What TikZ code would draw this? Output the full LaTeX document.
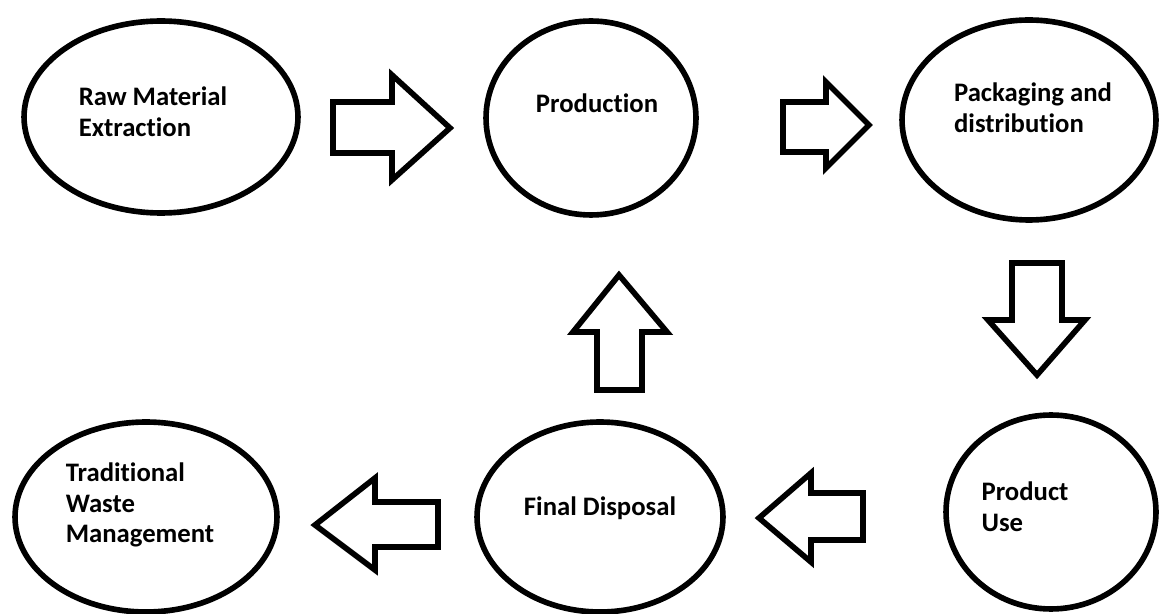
\documentclass[tikz,border=0pt]{standalone}
\usepackage{fontspec}
\setmainfont{Carlito}[Ligatures=NoCommon]
\usetikzlibrary{shapes.geometric}

\begin{document}
\begin{tikzpicture}[x=0.02cm,y=-0.02cm,
    etapa/.style={ellipse,draw,line width=3.2pt,inner sep=0pt},
    rotulo/.style={align=left,font=\bfseries\fontsize{15.2}{17.5}\selectfont},
    bloque/.style={draw,line width=3.2pt,fill=white}]

\useasboundingbox (0,0) rectangle (1159,614);

% Etapas del ciclo
\node[etapa,minimum width=5.48cm,minimum height=3.84cm] (raw) at (161,117) {};
\node[etapa,minimum width=4.20cm,minimum height=3.88cm] (prod) at (591,118) {};
\node[etapa,minimum width=5.08cm,minimum height=4.00cm] (pack) at (1029,120) {};
\node[etapa,minimum width=4.20cm,minimum height=3.88cm] (use) at (1051,512) {};
\node[etapa,minimum width=4.92cm,minimum height=3.80cm] (disp) at (600,517) {};
\node[etapa,minimum width=5.24cm,minimum height=3.80cm] (trad) at (146,517) {};

% Textos
\node[rotulo] (rawtxt) at (153,112) {Raw Material\\Extraction};
\node[rotulo] (prodtxt) at (597,103) {Production};
\node[rotulo] (packtxt) at (1033,108) {Packaging and\\distribution};
\node[rotulo] (usetxt) at (1025,507) {Product\\Use};
\node[rotulo] (disptxt) at (600,508) {Final Disposal};
\node[rotulo] (tradtxt) at (140,505) {Traditional\\Waste\\Management};

% Flechas de bloque
\draw[bloque] (333,102) -- (392,102) -- (392,75) -- (450,128)
    -- (392,180) -- (392,153) -- (333,153) -- cycle;

\draw[bloque] (783,102) -- (826,102) -- (826,82) -- (869,125)
    -- (826,168) -- (826,152) -- (783,152) -- cycle;

\draw[bloque] (1012,263) -- (1062,263) -- (1062,320) -- (1085,320)
    -- (1037,375) -- (988,320) -- (1012,320) -- cycle;

\draw[bloque] (597,390) -- (642,390) -- (642,332) -- (667,332)
    -- (619,275) -- (573,332) -- (597,332) -- cycle;

\draw[bloque] (863,493) -- (811,493) -- (811,473) -- (759,518)
    -- (811,562) -- (811,540) -- (863,540) -- cycle;

\draw[bloque] (438,502) -- (375,502) -- (375,478) -- (315,525)
    -- (375,570) -- (375,547) -- (438,547) -- cycle;

\end{tikzpicture}
\end{document}
